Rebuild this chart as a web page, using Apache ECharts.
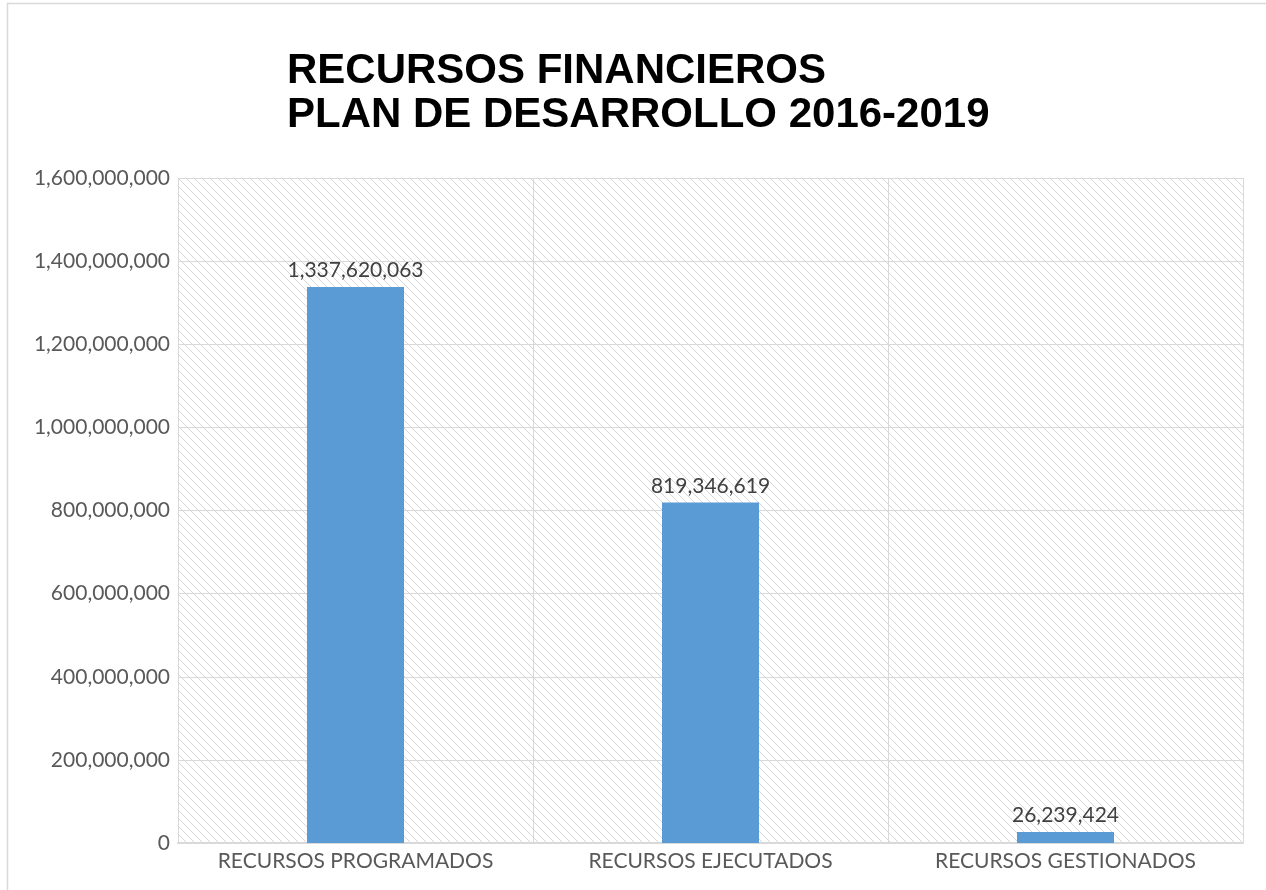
<!DOCTYPE html>
<html>
<head>
<meta charset="utf-8">
<script src="https://cdn.jsdelivr.net/npm/echarts@6/dist/echarts.min.js"></script>
<style>
  html, body { margin: 0; padding: 0; background: #fff; }
  #chart { width: 1266px; height: 890px; }
</style>
</head>
<body>
<div id="chart"></div>
<script>
  // datos
  var categorias = ['RECURSOS PROGRAMADOS', 'RECURSOS EJECUTADOS', 'RECURSOS GESTIONADOS'];
  var valores = [1337620063, 819346619, 26239424];

  function fmt(v) {
    return String(v).replace(/\B(?=(\d{3})+(?!\d))/g, ',');
  }

  // patron de rayas diagonales para el fondo del area
  var pc = document.createElement('canvas');
  pc.width = 8; pc.height = 8;
  var ctx = pc.getContext('2d');
  ctx.strokeStyle = '#d6d6d6';
  ctx.lineWidth = 1;
  ctx.beginPath();
  ctx.moveTo(-1, -1); ctx.lineTo(9, 9);
  ctx.moveTo(-1, 7); ctx.lineTo(1, 9);
  ctx.moveTo(7, -1); ctx.lineTo(9, 1);
  ctx.stroke();

  var chart = echarts.init(document.getElementById('chart'));
  var option = {
    backgroundColor: '#fff',
    animation: false,
    title: {
      text: 'RECURSOS FINANCIEROS\nPLAN DE DESARROLLO 2016-2019',
      left: 282,
      top: 44,
      textStyle: {
        fontFamily: 'Liberation Sans',
        fontWeight: 'bold',
        fontSize: 42,
        lineHeight: 44,
        color: '#000'
      }
    },
    graphic: [{
      type: 'rect',
      shape: { x: 7.5, y: 3.5, width: 1300, height: 950 },
      style: { fill: 'none', stroke: '#d9d9d9', lineWidth: 1.5 },
      silent: true
    }],
    grid: {
      left: 178, top: 178, right: 23, bottom: 47,
      show: true,
      backgroundColor: { image: pc, repeat: 'repeat' },
      borderWidth: 0
    },
    xAxis: {
      type: 'category',
      data: categorias,
      axisLine: { lineStyle: { color: '#d9d9d9', width: 2 } },
      axisTick: { show: false },
      splitLine: { show: true, interval: 0, lineStyle: { color: '#d9d9d9', width: 1 } },
      axisLabel: {
        interval: 0,
        fontFamily: 'Lato', fontSize: 21, color: '#595959', margin: 8
      }
    },
    yAxis: {
      type: 'value',
      min: 0, max: 1600000000, interval: 200000000,
      axisLine: { show: false },
      axisTick: { show: false },
      splitLine: { lineStyle: { color: '#d9d9d9', width: 1 } },
      axisLabel: {
        fontFamily: 'Lato', fontSize: 21, color: '#595959', margin: 8,
        formatter: function (v) { return fmt(v); }
      }
    },
    series: [{
      type: 'bar',
      data: valores,
      barWidth: 97,
      itemStyle: { color: '#5b9bd5' },
      label: {
        show: true,
        position: 'top',
        distance: 6,
        fontFamily: 'Lato', fontSize: 21, color: '#404040',
        formatter: function (p) { return fmt(p.value); }
      }
    }]
  };
  chart.setOption(option);
</script>
</body>
</html>
